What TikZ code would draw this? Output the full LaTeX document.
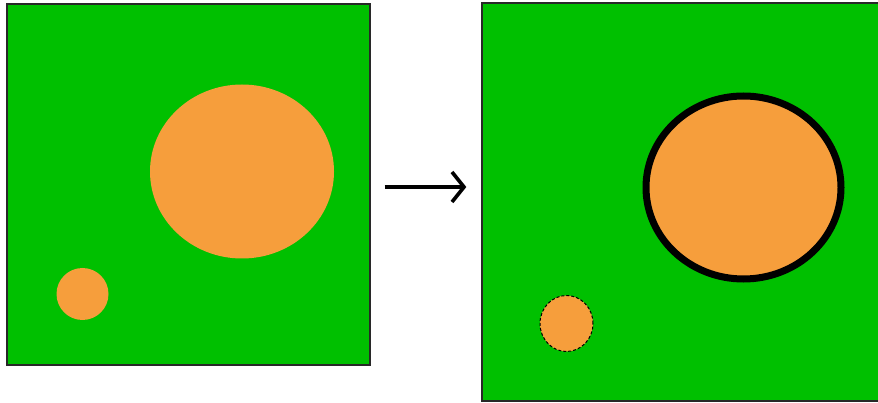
\documentclass[tikz,border=0pt]{standalone}
\usepackage{tikz}
\usetikzlibrary{positioning, arrows.meta, shapes.geometric}
\definecolor{grassgreen}{RGB}{0, 192, 0}
\definecolor{bloborange}{RGB}{246, 158, 60}
\definecolor{edgegray}{RGB}{40, 40, 40}

\begin{document}
\begin{tikzpicture}[x=1pt, y=-1pt,
    field/.style={rectangle, draw=edgegray, line width=1.4pt, fill=grassgreen, inner sep=0pt},
    blob/.style={ellipse, fill=bloborange, inner sep=0pt},
    arrow/.style={-{Straight Barb[length=12pt, width=30pt, line width=3.6pt]}, line width=3.6pt, shorten <=14pt, shorten >=15pt}
]
    \useasboundingbox (0,0) rectangle (878,403);

    % Left field
    \node[field, minimum width=363pt, minimum height=361pt] (leftfield) at (188.5,184.5) {};
    \node[blob, minimum width=184pt, minimum height=174pt] (leftbig) at (242,171.5) {};
    \node[blob, minimum width=52pt, minimum height=52pt] (leftsmall) at (82.5,294) {};

    % Right field
    \node[field, minimum width=400pt, minimum height=398pt] (rightfield) at (682,202) {};
    \node[blob, draw=black, line width=7pt, minimum width=195pt, minimum height=183pt] (rightbig) at (743.5,187.5) {};
    \node[blob, draw=black, densely dashed, line width=1pt, minimum width=53pt, minimum height=56pt] (rightsmall) at (566.5,323.5) {};

    \draw[arrow] ([yshift=-2.5pt]leftfield.east) -- ([yshift=-2.5pt]leftfield.east -| rightfield.west);
\end{tikzpicture}
\end{document}
